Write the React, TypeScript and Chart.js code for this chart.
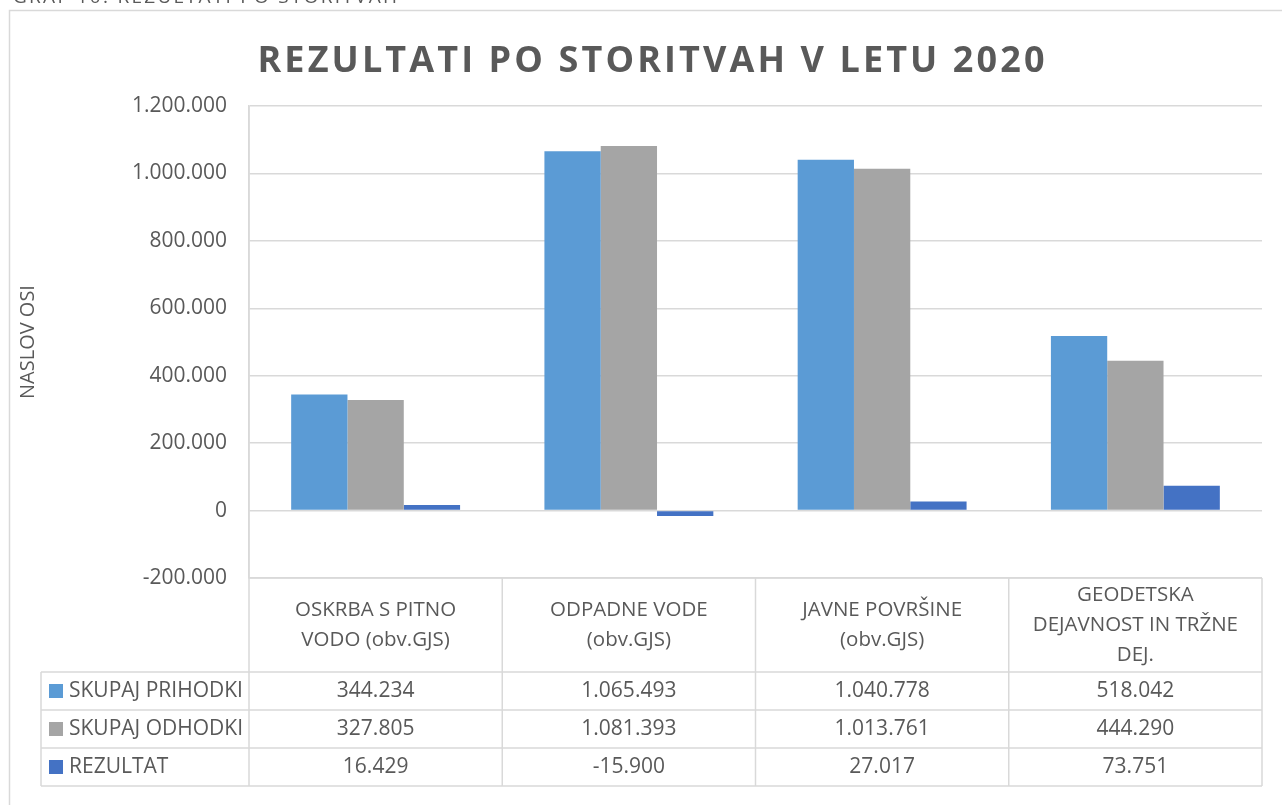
import React, { useEffect, useRef } from "react";
import { Chart, registerables } from "chart.js";

Chart.register(...registerables);

const chartTitle = "REZULTATI PO STORITVAH V LETU 2020";
const axisTitle = "NASLOV OSI";
const captionText = "GRAF 10: REZULTATI PO STORITVAH";

const categoryLines = [
  ["OSKRBA S PITNO", "VODO (obv.GJS)"],
  ["ODPADNE VODE", "(obv.GJS)"],
  ["JAVNE POVRŠINE", "(obv.GJS)"],
  ["GEODETSKA", "DEJAVNOST IN TRŽNE", "DEJ."],
];
const seriesNames = ["SKUPAJ PRIHODKI", "SKUPAJ ODHODKI", "REZULTAT"];
const prihodki = [344234, 1065493, 1040778, 518042];
const odhodki = [327805, 1081393, 1013761, 444290];
const rezultat = [16429, -15900, 27017, 73751];
const yMin = -200000;
const yMax = 1200000;
const yStep = 200000;

const seriesColors = ["#5B9BD5", "#A5A5A5", "#4472C4"];
const textColor = "#595959";
const lineColor = "#D9D9D9";
const FONT = "'Open Sans', 'DejaVu Sans', sans-serif";

function fmt(v: number): string {
  const s = Math.abs(Math.round(v))
    .toString()
    .replace(/\B(?=(\d{3})+(?!\d))/g, ".");
  return (v < 0 ? "-" : "") + s;
}

function drawSpaced(ctx: any, text: string, x: number, y: number, width: number) {
  ctx.letterSpacing = "0px";
  const plainW = ctx.measureText(text).width;
  const sp = (width - plainW) / (text.length - 1);
  ctx.letterSpacing = `${sp}px`;
  ctx.textAlign = "left";
  ctx.fillText(text, x, y);
  ctx.letterSpacing = "0px";
}

const tablePlugin = {
  id: "excelTable",
  afterDraw(chart: any) {
    const { ctx, chartArea, scales } = chart;
    const xs = scales.x;
    const ys = scales.y;
    const left = chartArea.left;
    const right = chartArea.right;
    const n = categoryLines.length;
    const colW = (right - left) / n;
    const tableTop = ys.getPixelForValue(yMin);
    const headerH = 94;
    const rowH = 38;
    const headerBottom = tableTop + headerH;
    const tableBottom = headerBottom + rowH * seriesNames.length;
    const tableLeft = 41;

    ctx.save();
    // caption (cut off at top of the page)
    ctx.fillStyle = textColor;
    ctx.font = `19px ${FONT}`;
    ctx.textBaseline = "alphabetic";
    drawSpaced(ctx, captionText, 13, 3, 384);

    // outer chart border
    ctx.strokeStyle = lineColor;
    ctx.lineWidth = 1.5;
    ctx.strokeRect(9.5, 10.5, 1400, 1000);

    // title
    ctx.fillStyle = textColor;
    ctx.font = `bold 36px ${FONT}`;
    ctx.textBaseline = "alphabetic";
    drawSpaced(ctx, chartTitle, 651 - 787 / 2, 72, 787);

    // axis title
    ctx.save();
    ctx.translate(28, (chartArea.top + chartArea.bottom) / 2);
    ctx.rotate(-Math.PI / 2);
    ctx.font = `20px ${FONT}`;
    ctx.textAlign = "center";
    ctx.textBaseline = "middle";
    ctx.fillText(axisTitle, 0, 0);
    ctx.restore();

    // table lines
    ctx.strokeStyle = lineColor;
    ctx.lineWidth = 1.5;
    ctx.beginPath();
    ctx.moveTo(left, chartArea.top);
    ctx.lineTo(left, tableBottom);
    for (let i = 1; i <= n; i++) {
      const xx = left + colW * i;
      ctx.moveTo(xx, tableTop);
      ctx.lineTo(xx, tableBottom);
    }
    ctx.moveTo(tableLeft, headerBottom);
    ctx.lineTo(tableLeft, tableBottom);
    ctx.moveTo(left, tableTop);
    ctx.lineTo(right, tableTop);
    for (let r = 0; r <= seriesNames.length; r++) {
      const yy = headerBottom + rowH * r;
      ctx.moveTo(tableLeft, yy);
      ctx.lineTo(right, yy);
    }
    ctx.stroke();

    // header labels
    ctx.fillStyle = textColor;
    ctx.font = `20.5px ${FONT}`;
    ctx.textAlign = "center";
    ctx.textBaseline = "middle";
    const lineGap = 30;
    const headerMid = tableTop + headerH / 2;
    categoryLines.forEach((lines, i) => {
      const cx = xs.getPixelForValue(i);
      const start = headerMid - ((lines.length - 1) * lineGap) / 2;
      lines.forEach((t, k) => ctx.fillText(t, cx, start + k * lineGap));
    });

    // rows
    ctx.font = `21px ${FONT}`;
    const allSeries = [prihodki, odhodki, rezultat];
    allSeries.forEach((vals, r) => {
      const cy = headerBottom + rowH * r + rowH / 2;
      ctx.fillStyle = seriesColors[r];
      ctx.fillRect(49, cy - 7, 14, 14);
      ctx.fillStyle = textColor;
      ctx.textAlign = "left";
      ctx.fillText(seriesNames[r], 69, cy);
      ctx.textAlign = "center";
      vals.forEach((v, i) => {
        ctx.fillText(fmt(v), xs.getPixelForValue(i), cy);
      });
    });
    ctx.restore();
  },
};

export default function App() {
  const ref = useRef<HTMLCanvasElement | null>(null);

  useEffect(() => {
    if (!ref.current) return;
    const chart = new Chart(ref.current, {
      type: "bar",
      data: {
        labels: categoryLines.map((l) => l.join(" ")),
        datasets: [
          { label: seriesNames[0], data: prihodki, backgroundColor: seriesColors[0] },
          { label: seriesNames[1], data: odhodki, backgroundColor: seriesColors[1] },
          { label: seriesNames[2], data: rezultat, backgroundColor: seriesColors[2] },
        ],
      },
      options: {
        responsive: false,
        animation: false,
        devicePixelRatio: 1,
        layout: { padding: { left: 0, right: 20, top: 106, bottom: 227 } },
        datasets: { bar: { categoryPercentage: 0.667, barPercentage: 1.0 } },
        plugins: {
          legend: { display: false },
          title: { display: false },
          tooltip: { enabled: false },
        },
        scales: {
          x: { display: false },
          y: {
            min: yMin,
            max: yMax,
            afterFit: (s: any) => {
              s.width = 249;
            },
            ticks: {
              stepSize: yStep,
              color: textColor,
              font: { family: FONT, size: 21 },
              padding: 22,
              callback: (v: any) => fmt(Number(v)),
            },
            grid: { color: lineColor, lineWidth: 1.5, drawTicks: false },
            border: { display: true, color: lineColor, width: 1.5 },
          },
        },
      },
      plugins: [tablePlugin],
    });
    return () => chart.destroy();
  }, []);

  return (
    <div style={{ position: "fixed", left: 0, top: 0, width: 1282, height: 805, background: "#fff", overflow: "hidden" }}>
      <canvas ref={ref} width={1282} height={805} style={{ position: "absolute", left: 0, top: 0 }} />
    </div>
  );
}
